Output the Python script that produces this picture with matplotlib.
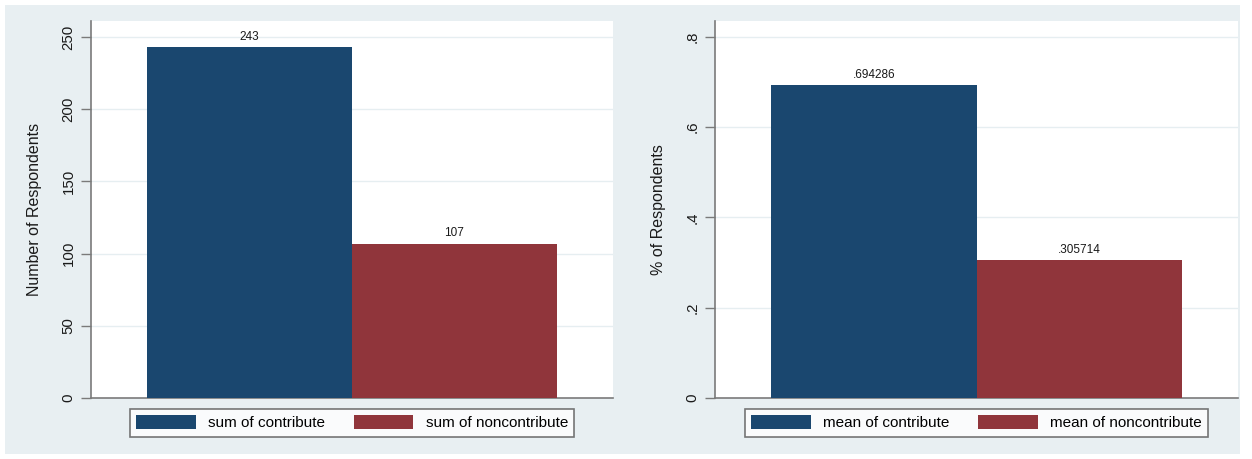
import matplotlib
matplotlib.use('Agg')
import matplotlib.pyplot as plt
from matplotlib.patches import Rectangle

plt.rcParams['font.family'] = ['Liberation Sans', 'DejaVu Sans']

# data
positions = [0, 1]
sum_values = [243, 107]
sum_labels = ['243', '107']
sum_legend = ['sum of contribute', 'sum of noncontribute']
sum_ticks = [0, 50, 100, 150, 200, 250]
sum_ticklabels = ['0', '50', '100', '150', '200', '250']

mean_values = [0.694286, 0.305714]
mean_labels = ['.694286', '.305714']
mean_legend = ['mean of contribute', 'mean of noncontribute']
mean_ticks = [0, 0.2, 0.4, 0.6, 0.8]
mean_ticklabels = ['0', '.2', '.4', '.6', '.8']

colors = ['#1a476f', '#90353b']
bg = '#e8eff2'
grid_c = '#e6eef1'
axis_c = '#7a7a7a'

W, H = 1252, 459
fig = plt.figure(figsize=(W / 100, H / 100), dpi=100, facecolor='white')
fig.patches.append(Rectangle((5 / W, 1 - 454 / H), 1235 / W, 449 / H,
                             transform=fig.transFigure, facecolor=bg,
                             edgecolor='none', zorder=-10))


def panel(left_px, width_px, values, labels, legend, ticks, ticklabels, ymax, ylabel):
    ax = fig.add_axes([left_px / W, 1 - 398 / H, width_px / W, 377 / H])
    ax.set_facecolor('white')
    for i in range(len(values)):
        b = ax.bar(positions[i], values[i], width=1.0, color=colors[i],
                   label=legend[i], zorder=3)
        ax.bar_label(b, labels=[labels[i]], padding=3, fontsize=8.5,
                     color='#1a1a1a')
    ax.set_xlim(-0.775, 1.775)
    ax.set_ylim(0, ymax)
    ax.set_xticks([])
    ax.set_yticks(ticks)
    ax.set_yticklabels(ticklabels, rotation=90, va='center', fontsize=10.8,
                       color='#1a1a1a')
    for t in ticks[1:]:
        ax.axhline(t, color=grid_c, lw=1, zorder=1)
    for s in ['top', 'right']:
        ax.spines[s].set_visible(False)
    for s in ['left', 'bottom']:
        ax.spines[s].set_color(axis_c)
        ax.spines[s].set_linewidth(1.2)
    ax.tick_params(axis='y', length=7, width=1, color=axis_c, pad=4)
    ax.set_ylabel(ylabel, fontsize=11.5, color='#1a1a1a', labelpad=14)
    leg = ax.legend(loc='center', bbox_to_anchor=(0.5, -0.066), ncol=2,
                    fontsize=11, frameon=True, fancybox=False,
                    handlelength=3.9, handleheight=1.0, handletextpad=0.8,
                    columnspacing=1.9, borderpad=0.4, borderaxespad=0)
    leg.get_frame().set_edgecolor('#555555')
    leg.get_frame().set_linewidth(1.2)
    leg.get_frame().set_facecolor('white')
    return ax


panel(91, 522, sum_values, sum_labels, sum_legend, sum_ticks, sum_ticklabels,
      261.1, 'Number of Respondents')
panel(715, 523, mean_values, mean_labels, mean_legend, mean_ticks, mean_ticklabels,
      0.8354, '% of Respondents')

fig.savefig('out.png', dpi=100, facecolor='white')
